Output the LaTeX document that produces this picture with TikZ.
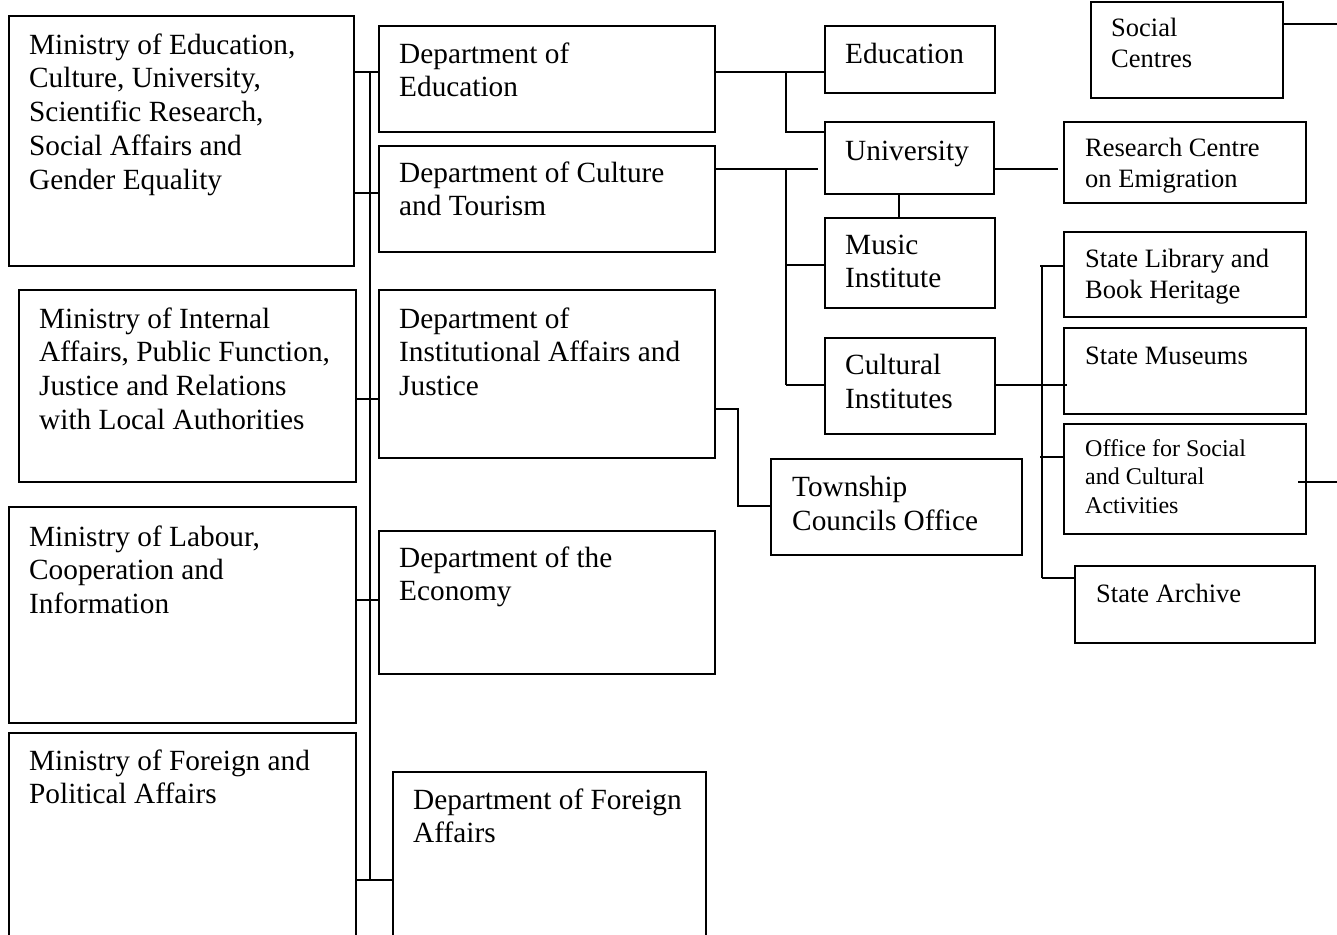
\documentclass[tikz,border=0pt]{standalone}
\usepackage{fontspec}
\setmainfont{Liberation Serif}
\begin{document}
\begin{tikzpicture}[x=1pt,y=-1pt,
  box/.style={draw, line width=1.6pt, inner sep=0pt, anchor=north west},
  ln/.style={line width=1.6pt},
  txt/.style={align=left, inner sep=0pt, anchor=north west, execute at begin node=\strut},
  big/.style={txt, font=\fontsize{29.3}{33.7}\selectfont, yshift=19.6pt},
  mid/.style={txt, font=\fontsize{26.5}{31}\selectfont, yshift=16.7pt},
  sml/.style={txt, font=\fontsize{24}{28.5}\selectfont, yshift=16.95pt}]
\useasboundingbox (0,0) rectangle (1337,934);
\clip (0,0) rectangle (1337,934);
% boxes
\node[box, minimum width=345pt, minimum height=250pt] (M1) at (8,15) {};
\node[box, minimum width=337pt, minimum height=192pt] (M2) at (18,289) {};
\node[box, minimum width=347pt, minimum height=216pt] (M3) at (8,506) {};
\node[box, minimum width=347pt, minimum height=220pt] (M4) at (8,732) {};
\node[box, minimum width=336pt, minimum height=106pt] (DEdu) at (378,25) {};
\node[box, minimum width=336pt, minimum height=106pt] (DCult) at (378,145) {};
\node[box, minimum width=336pt, minimum height=168pt] (DInst) at (378,289) {};
\node[box, minimum width=336pt, minimum height=143pt] (DEcon) at (378,530) {};
\node[box, minimum width=313pt, minimum height=180pt] (DFor) at (392,771) {};
\node[box, minimum width=170pt, minimum height=67pt] (Edu) at (824,25) {};
\node[box, minimum width=169pt, minimum height=72pt] (Uni) at (824,121) {};
\node[box, minimum width=170pt, minimum height=90pt] (Music) at (824,217) {};
\node[box, minimum width=170pt, minimum height=96pt] (CInst) at (824,337) {};
\node[box, minimum width=251pt, minimum height=96pt] (Town) at (770,458) {};
\node[box, minimum width=192pt, minimum height=96pt] (Social) at (1090,1) {};
\node[box, minimum width=242pt, minimum height=81pt] (Research) at (1063,121) {};
\node[box, minimum width=242pt, minimum height=85pt] (Library) at (1063,231) {};
\node[box, minimum width=242pt, minimum height=86pt] (Museums) at (1063,327) {};
\node[box, minimum width=242pt, minimum height=110pt] (Office) at (1063,423) {};
\node[box, minimum width=240pt, minimum height=77pt] (Archive) at (1074,565) {};
% texts
\node[big] (tM1) at (29,53) {Ministry of Education,\\Culture, University,\\Scientific Research,\\Social Affairs and\\Gender Equality};
\node[big] (tM2) at (39,327) {Ministry of Internal\\Affairs, Public Function,\\Justice and Relations\\with Local Authorities};
\node[big] (tM3) at (29,545) {Ministry of Labour,\\Cooperation and\\Information};
\node[big] (tM4) at (29,769) {Ministry of Foreign and\\Political Affairs};
\node[big] (tDEdu) at (399,62) {Department of\\Education};
\node[big] (tDCult) at (399,181) {Department of Culture\\and Tourism};
\node[big] (tDInst) at (399,327) {Department of\\Institutional Affairs and\\Justice};
\node[big] (tDEcon) at (399,566) {Department of the\\Economy};
\node[big] (tDFor) at (413,808) {Department of Foreign\\Affairs};
\node[big] (tEdu) at (845,59) {Education};
\node[big] (tUni) at (845,156) {University};
\node[big] (tMusic) at (845,254) {Music\\Institute};
\node[big] (tCInst) at (845,374) {Cultural\\Institutes};
\node[big] (tTown) at (792,496) {Township\\Councils Office};
\node[mid] (tSocial) at (1111,35) {Social\\Centres};
\node[mid] (tResearch) at (1085,155) {Research Centre\\on Emigration};
\node[mid] (tLibrary) at (1085,266) {State Library and\\Book Heritage};
\node[mid] (tMuseums) at (1085,359) {State Museums};
\node[sml] (tOffice) at (1085,456) {Office for Social\\and Cultural\\Activities};
\node[mid] (tArchive) at (1096,597) {State Archive};
% free-end coordinates
\coordinate (busTop) at (370,72);
\coordinate (busBot) at (370,880);
\coordinate (eduBus) at (786,72);
\coordinate (cultEnd) at (818,169);
\coordinate (cultBusTop) at (786,169);
\coordinate (cultBusBot) at (786,385);
\coordinate (townJog) at (738,409);
\coordinate (uniEnd) at (1058,169);
\coordinate (ciEnd) at (1067,385);
\coordinate (libTop) at (1042,266);
\coordinate (libBot) at (1042,578);
\coordinate (socialEnd) at (1337,24);
\coordinate (officeStart) at (1298,482);
\coordinate (officeEnd) at (1337,482);
% ministry - department bus
\draw[ln] (busTop) -- (busBot);
\draw[ln] (M1.east |- busTop) -- (DEdu.west |- busTop);
\draw[ln] (M1.east |- 0,193) -- (DCult.west |- 0,193);
\draw[ln] (M2.east |- 0,399) -- (DInst.west |- 0,399);
\draw[ln] (M3.east |- 0,600) -- (DEcon.west |- 0,600);
\draw[ln] (M4.east |- busBot) -- (DFor.west |- busBot);
% education department
\draw[ln] (DEdu.east |- eduBus) -- (Edu.west |- eduBus);
\draw[ln] (eduBus) -- (eduBus |- 0,132) -- (Uni.west |- 0,132);
\draw[ln] (Uni.south -| 899,0) -- (Music.north -| 899,0);
\draw[ln] (Uni.east |- uniEnd) -- (uniEnd);
% culture department
\draw[ln] (DCult.east |- cultEnd) -- (cultEnd);
\draw[ln] (cultBusTop) -- (cultBusBot);
\draw[ln] (cultBusTop |- 0,265) -- (Music.west |- 0,265);
\draw[ln] (cultBusBot) -- (CInst.west |- cultBusBot);
\draw[ln] (CInst.east |- ciEnd) -- (ciEnd);
% institutional affairs
\draw[ln] (DInst.east |- townJog) -- (townJog) -- (townJog |- 0,506) -- (Town.west |- 0,506);
% cultural institutes bus
\draw[ln] (libTop) -- (libBot);
\draw[ln] (1040,266) -- (Library.west |- libTop);
\draw[ln] (1040,457) -- (Office.west |- 0,457);
\draw[ln] (libBot) -- (Archive.west |- libBot);
% free lines to the right
\draw[ln] (Social.east |- socialEnd) -- (socialEnd);
\draw[ln] (officeStart) -- (officeEnd);
\end{tikzpicture}
\end{document}
